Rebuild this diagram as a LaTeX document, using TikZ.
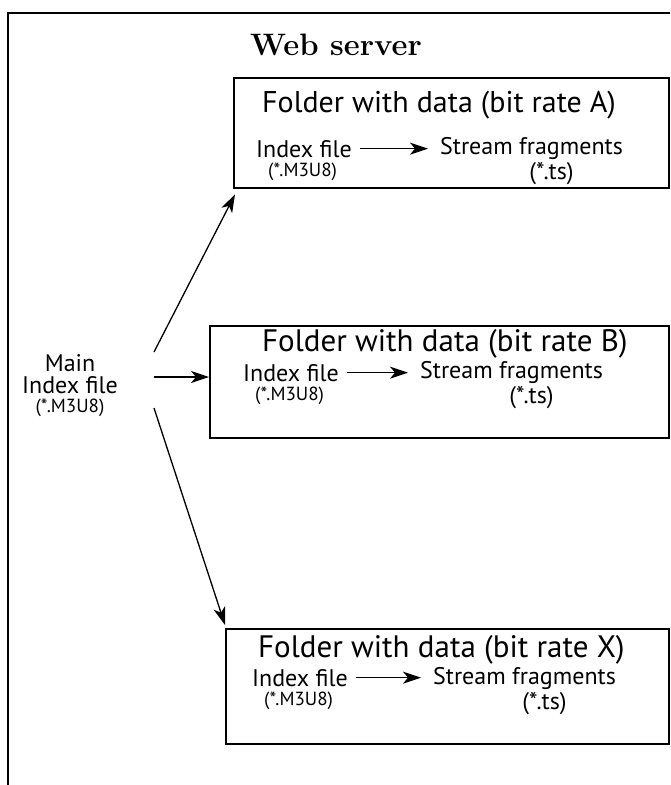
\documentclass[tikz,border=0pt]{standalone}
\usepackage{fontspec}
\newfontfamily\myriad{PT Sans}
\usetikzlibrary{arrows.meta}
\tikzset{
  folder/.style={draw, line width=2.4pt, anchor=north west, inner sep=0pt,
    minimum height=110pt},
  title/.style={font=\myriad\fontsize{30pt}{30pt}\selectfont, anchor=base west, inner sep=0pt},
  label/.style={font=\myriad\fontsize{24pt}{22pt}\selectfont, anchor=base west, inner sep=0pt},
  ext/.style={font=\myriad\fontsize{19pt}{19pt}\selectfont, anchor=base west, inner sep=0pt},
  link/.style={-{Stealth[length=18pt,width=12pt,inset=5pt]}, line width=1.3pt}
}
\newcommand{\fragtext}{Stream fragments\\[1.5pt]\hspace*{40pt}(*.ts)}
\begin{document}
\begin{tikzpicture}[x=1pt,y=-1pt]
\useasboundingbox (0,0) rectangle (670,785);
\draw[line width=1.8pt] (8,785) -- (8,13) -- (670,13); % server frame, open at right and bottom
\node[font=\bfseries\fontsize{31pt}{31pt}\selectfont, anchor=base, inner sep=0pt] (server) at (336,55) {Web server};

% folder A
\node[folder, minimum width=435pt] (boxA) at (233,77) {};
\node[title] (titleA) at (262,112) {Folder with data (bit rate A)};
\node[label] (idxA) at (256,157) {Index file};
\node[ext] (extA) at (268,176) {(*.M3U8)};
\node[label, align=center] (strA) at (440,179) {\fragtext}; % base = last line
\draw[link] ([xshift=8pt]idxA.east) -- ([xshift=-12pt]idxA.east -| strA.west);

% folder B
\node[folder, minimum width=459pt, minimum height=112pt] (boxB) at (209,325) {};
\node[title, font=\myriad\fontsize{31pt}{31pt}\selectfont] (titleB) at (262,351) {Folder with data (bit rate B)};
\node[label] (idxB) at (243,381) {Index file};
\node[ext] (extB) at (255,400) {(*.M3U8)};
\node[label, align=center] (strB) at (420,403) {\fragtext};
\draw[link] ([xshift=8pt]idxB.east) -- ([xshift=-12pt]idxB.east -| strB.west);

% folder X
\node[folder, minimum width=443pt, minimum height=115pt] (boxX) at (225,628) {};
\node[title, font=\myriad\fontsize{31pt}{31pt}\selectfont] (titleX) at (258,657) {Folder with data (bit rate X)};
\node[label] (idxX) at (252,686) {Index file};
\node[ext] (extX) at (264,705) {(*.M3U8)};
\node[label, align=center] (strX) at (433,709) {\fragtext};
\draw[link] ([xshift=8pt]idxX.east) -- ([xshift=-12pt]idxX.east -| strX.west);

% main index and its links
\node[label, anchor=center, align=center] (main) at (70,386)
{Main\\Index file\\[-3pt]{\fontsize{19pt}{19pt}\selectfont(*.M3U8)}};
\coordinate (outA) at (154,352);
\coordinate (outB) at (154,377);
\coordinate (outX) at (154,408);
\draw[link] (outA) -- ([shift={(2pt,-5pt)}]boxA.south west);
\draw[link] (outB) -- (outB -| boxB.west);
\draw[link] (outX) -- ([yshift=3pt]boxX.north west);
\end{tikzpicture}
\end{document}
